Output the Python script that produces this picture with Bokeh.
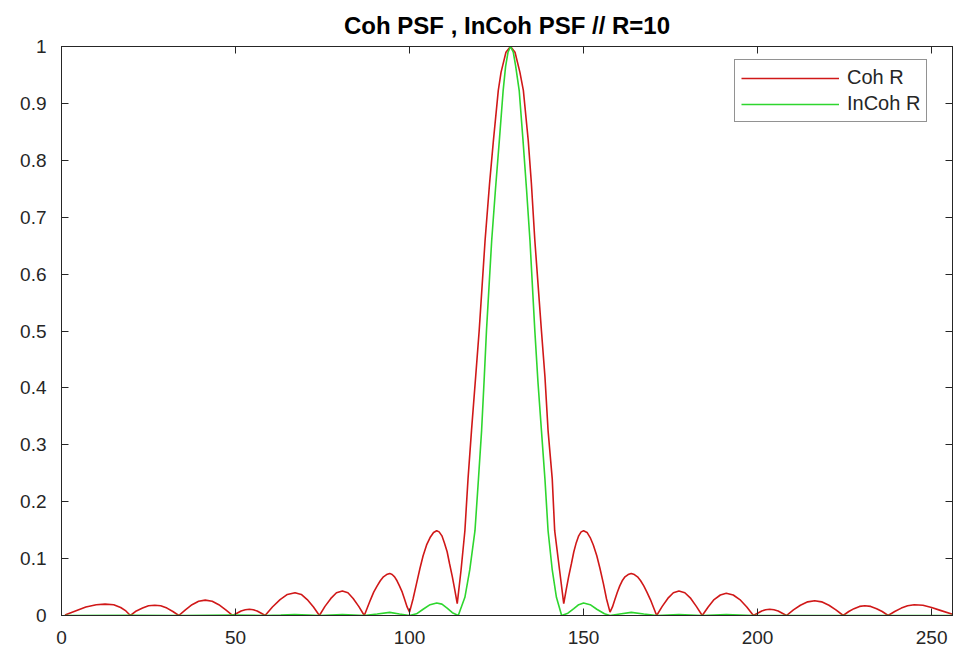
from bokeh.plotting import figure
from bokeh.models import LinearAxis, FixedTicker, Range1d, CustomLabelingPolicy
from bokeh.embed import file_html
from bokeh.resources import INLINE

# values
red_x = [1, 4, 7, 10, 12.5, 15, 17, 18.5, 19.8,
         21.5, 23.3, 25, 26.8, 28.5, 30.3, 32, 33.7,
         35.6, 37.5, 39.4, 41.3, 43.3, 45.2, 47.2, 49.2,
         50.4, 51.6, 52.8, 54, 55.1, 56.2, 57.4, 58.5,
         60.6, 62.8, 64.9, 67.1, 68.9, 70.6, 72.4, 74.1,
         75.7, 77.4, 79, 80.7, 82.3, 83.8, 85.4, 87,
         87.9, 88.8, 89.7, 90.7, 91.6, 92.5, 93.4, 94.3, 95.0, 95.7, 96.4, 97.1, 97.9, 98.6, 99.3, 100,
         101, 102, 103, 103.9, 104.9, 105.9, 106.9, 107.8, 108.5, 109.3, 110, 110.8, 111.5, 112.3, 113, 113.7,
         114.8, 115.9, 116.8, 117.8, 119, 120, 121.7, 123, 124.1, 125.5, 126.3, 127.7, 129,
         130.3, 131.7, 132.7, 134.1, 135, 136, 137.9, 138.9, 139.8, 141, 141.7, 143.1, 144.3,
         145, 145.7, 146.5, 147.2, 147.9, 148.6, 149.3, 150, 151, 151.9, 152.8, 153.8, 154.7, 155.7, 156.6, 157.6,
         158.3, 159, 159.7, 160.4, 161.1, 161.9, 162.8, 163.7, 164.6, 165.5, 166.4, 167.3, 168.2, 169.2, 170.1, 171,
         172.6, 174.2, 175.8, 177.4, 179.1, 180.8, 182.4, 184.1,
         185.8, 187.5, 189.3, 191, 193, 194.9, 196.9, 198.8,
         200, 201.2, 202.3, 203.5, 204.7, 205.9, 207.1, 208.3,
         210.3, 212.3, 214.4, 216.4, 218.4, 220.5, 222.5, 224.6,
         226.2, 227.7, 229.3, 230.8, 232.5, 234.2, 235.8, 237.5,
         239.4, 241.3, 243.1, 245, 247.5, 250, 252.5, 256]
red_y = [0.001, 0.008, 0.015, 0.019, 0.020, 0.019, 0.014, 0.008, 0.0,
         0.008, 0.013, 0.017, 0.018, 0.017, 0.013, 0.007, 0.0,
         0.010, 0.019, 0.025, 0.027, 0.025, 0.019, 0.010, 0.0,
         0.004, 0.008, 0.010, 0.011, 0.010, 0.008, 0.004, 0.0,
         0.015, 0.028, 0.037, 0.040, 0.037, 0.028, 0.015, 0.0,
         0.016, 0.030, 0.040, 0.043, 0.040, 0.030, 0.016, 0.0,
         0.014, 0.028, 0.041, 0.052, 0.061, 0.068, 0.072, 0.074, 0.072, 0.068, 0.061, 0.052, 0.041, 0.028, 0.015, 0.006,
         0.029, 0.056, 0.083, 0.105, 0.124, 0.137, 0.146, 0.149, 0.147, 0.140, 0.128, 0.112, 0.091, 0.068, 0.045, 0.021,
         0.080, 0.149, 0.240, 0.325, 0.420, 0.500, 0.659, 0.760, 0.835, 0.923, 0.955, 0.990, 1.0,
         0.990, 0.955, 0.923, 0.835, 0.760, 0.659, 0.500, 0.420, 0.325, 0.240, 0.149, 0.080, 0.021,
         0.045, 0.068, 0.091, 0.112, 0.128, 0.140, 0.147, 0.149, 0.146, 0.137, 0.124, 0.105, 0.083, 0.056, 0.029, 0.006,
         0.015, 0.028, 0.041, 0.052, 0.061, 0.068, 0.072, 0.074, 0.072, 0.068, 0.061, 0.052, 0.041, 0.028, 0.014, 0.0,
         0.016, 0.030, 0.040, 0.043, 0.040, 0.030, 0.016, 0.0,
         0.015, 0.028, 0.036, 0.039, 0.036, 0.028, 0.015, 0.0,
         0.004, 0.008, 0.010, 0.011, 0.010, 0.008, 0.004, 0.0,
         0.010, 0.018, 0.024, 0.026, 0.024, 0.018, 0.010, 0.0,
         0.007, 0.012, 0.016, 0.017, 0.016, 0.012, 0.007, 0.0,
         0.007, 0.013, 0.017, 0.019, 0.018, 0.014, 0.009, 0.002]

green_x = [1, 20, 34, 49, 58.5, 63, 67, 71, 74.1, 77.4, 80.7, 84, 87,
           90.7, 94.3, 97.1, 100, 102, 103.9, 105.9, 107.8, 109.3, 110.8, 112.3, 114,
           115.9, 117.3, 118.8, 119.8, 120.7, 121.4, 122.1, 123.6, 124.7, 125.8, 126.9, 127.6, 128.3, 129,
           129.8, 130.5, 131.5, 132.6, 133.6, 134.6, 136, 136.9, 137.9, 138.9, 139.8, 141, 142.2, 143.7,
           145.5, 147.2, 148.6, 150, 151.9, 153.8, 156, 157.6,
           160.4, 163.7, 167.3, 171, 174.2, 177.4, 180.8, 184.1,
           187.5, 191, 194.9, 198.8, 256]
green_y = [0, 0.0004, 0, 0.0007, 0, 0.0008, 0.0016, 0.0008, 0, 0.0009, 0.0018, 0.0009, 0,
           0.0027, 0.0055, 0.0027, 0, 0.003, 0.011, 0.019, 0.022, 0.020, 0.013, 0.005, 0,
           0.032, 0.080, 0.149, 0.240, 0.325, 0.410, 0.500, 0.659, 0.750, 0.835, 0.923, 0.965, 0.990, 1.0,
           0.990, 0.965, 0.923, 0.835, 0.750, 0.659, 0.500, 0.410, 0.325, 0.240, 0.149, 0.080, 0.032, 0,
           0.004, 0.012, 0.019, 0.022, 0.019, 0.011, 0.003, 0,
           0.0027, 0.0055, 0.0027, 0, 0.0009, 0.0018, 0.0009, 0,
           0.0008, 0.0015, 0.0008, 0, 0]

x_ticks = [0, 50, 100, 150, 200, 250]
y_ticks = [0, 0.1, 0.2, 0.3, 0.4, 0.5, 0.6, 0.7, 0.8, 0.9, 1]
y_tick_labels = ["0", "0.1", "0.2", "0.3", "0.4", "0.5", "0.6", "0.7", "0.8", "0.9", "1"]

FONT = "Liberation Sans"
INK = "#262626"

p = figure(width=957, height=651, x_range=Range1d(0, 256), y_range=Range1d(0, 1),
           output_backend="svg", toolbar_location=None,
           min_border_left=61, min_border_right=5, min_border_top=46, min_border_bottom=36,
           title="Coh PSF , InCoh PSF // R=10")
p.grid.visible = False
p.outline_line_color = INK

p.title.align = "center"
p.title.vertical_align = "top"
p.title.text_font = FONT
p.title.text_font_size = "24px"
p.title.text_font_style = "bold"
p.title.text_color = "black"
p.title.standoff = 12


def style_axis(ax, ticks, standoff=15, size="19px"):
    ax.ticker = FixedTicker(ticks=ticks)
    ax.major_tick_in = 7
    ax.major_tick_out = 0
    ax.minor_tick_line_color = None
    ax.axis_line_color = INK
    ax.major_tick_line_color = INK
    ax.major_label_text_font = FONT
    ax.major_label_text_font_size = size
    ax.major_label_text_color = INK
    ax.major_label_standoff = standoff


style_axis(p.xaxis[0], x_ticks, 15)
p.yaxis[0].major_label_overrides = dict(zip(y_ticks, y_tick_labels))
style_axis(p.yaxis[0], y_ticks, 15)

# box ticks on top and right, no labels drawn
no_labels = CustomLabelingPolicy(code="return new Set()")
top = LinearAxis(major_label_policy=no_labels)
right = LinearAxis(major_label_policy=no_labels)
style_axis(top, x_ticks, 0, "0px")
style_axis(right, y_ticks, 0, "0px")
p.add_layout(top, "above")
p.add_layout(right, "right")

p.line(red_x, red_y, color="#d01818", line_width=1.6, legend_label="Coh R")
p.line(green_x, green_y, color="#2ed62e", line_width=1.6, legend_label="InCoh R")

p.legend.location = (673, 493)
p.legend.margin = 0
p.legend.padding = 6
p.legend.spacing = 3
p.legend.glyph_width = 98
p.legend.glyph_height = 22
p.legend.label_height = 22
p.legend.label_standoff = 8
p.legend.label_text_font = FONT
p.legend.label_text_font_size = "20px"
p.legend.label_text_color = INK
p.legend.border_line_color = INK
p.legend.border_line_width = 1
p.legend.background_fill_alpha = 1

open("out.html", "w").write(file_html(p, INLINE))
